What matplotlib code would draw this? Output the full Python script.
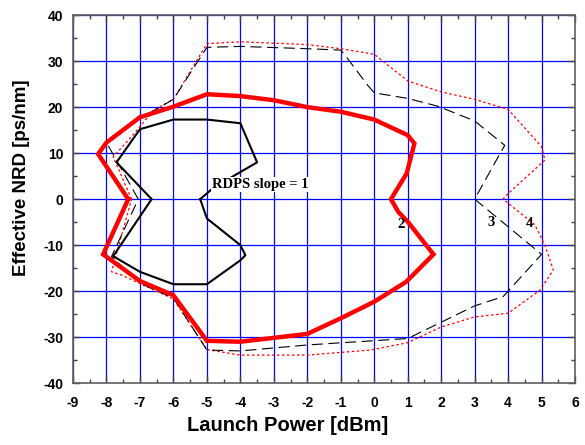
import matplotlib
matplotlib.use("Agg")
import matplotlib.pyplot as plt
import numpy as np

plt.rcParams["axes.unicode_minus"] = False

# curve 1: RDPS slope = 1 (black solid)
x1 = [-5.2, -5.0, -4.0, -3.85, -4.0, -5.0, -6.0, -7.0, -7.8, -6.65, -7.7, -7.0, -6.0, -5.0, -4.0, -3.5, -4.8, -5.2]
y1 = [0.0, -4.2, -10.0, -12.2, -13.3, -18.5, -18.5, -15.8, -12.4, 0.0, 8.0, 15.2, 17.3, 17.3, 16.5, 8.0, 2.5, 0.0]

# curve 2 (red thick)
x2 = [-7.35, -8.25, -8.0, -7.0, -6.0, -5.0, -4.0, -3.0, -2.0, -1.0, 0.0, 1.0, 1.2, 0.97, 0.5, 0.72, 1.0, 1.77,
      0.95, 0.0, -1.0, -2.0, -4.0, -5.0, -6.0, -7.0, -8.1, -7.35]
y2 = [0.0, 9.8, 12.3, 17.8, 20.1, 22.8, 22.4, 21.5, 20.0, 19.0, 17.3, 13.9, 12.1, 5.6, 0.0, -2.8, -4.9, -12.0,
      -18.0, -22.3, -25.9, -29.3, -31.0, -30.8, -20.9, -17.8, -12.0, 0.0]

# curve 3 (black dashed)
x3 = [-7.05, -8.0, -7.0, -6.0, -5.0, -4.0, -2.0, -1.0, -0.8, -0.2, 0.0, 1.0, 1.9, 3.0, 3.9, 3.75, 3.0, 5.0,
      3.85, 3.0, 1.0, -2.0, -4.0, -5.0, -6.0, -7.0, -7.85, -7.05]
y3 = [0.0, 12.3, 17.5, 21.7, 33.0, 33.2, 32.7, 32.4, 30.6, 24.8, 23.1, 21.9, 20.2, 17.0, 11.7, 9.8, 0.0, -12.0,
      -21.2, -23.2, -30.3, -31.7, -33.0, -32.8, -21.5, -18.3, -12.5, 0.0]

# curve 4 (red dotted)
x4 = [-7.25, -7.8, -7.2, -6.6, -6.0, -5.0, -4.0, -2.0, -1.0, 0.0, 1.0, 2.0, 3.0, 4.0, 5.0, 5.1, 4.0, 3.85,
      4.8, 5.1, 5.35, 4.95, 4.0, 3.0, 2.0, 1.0, -0.1, -2.0, -3.0, -4.0, -5.0, -6.0, -7.55, -7.85, -7.25]
y4 = [0.0, 9.2, 14.0, 19.3, 21.7, 33.8, 34.2, 33.6, 32.7, 31.5, 25.7, 23.3, 21.7, 19.5, 11.4, 8.5, 1.2, 0.0,
      -5.6, -10.0, -15.4, -19.8, -24.8, -25.6, -27.8, -31.2, -32.8, -33.9, -33.9, -33.9, -32.7, -21.7, -16.5, -15.8, 0.0]

curve_labels = ["2", "3", "4"]
label_x = [0.8, 3.5, 4.65]
label_y = [-5.6, -5.0, -5.4]

xticks = np.arange(-9, 7, 1)
yticks = np.arange(-40, 41, 10)

fig = plt.figure(figsize=(5.85, 4.45), dpi=100)
ax = fig.add_axes([0.1248, 0.139, 0.8582, 0.827])

for v in xticks:
    ax.axvline(v, color="#0000ff", lw=0.9, zorder=1)
for v in yticks:
    ax.axhline(v, color="#0000ff", lw=0.9, zorder=1)

ax.plot(x4, y4, color="red", lw=0.9, dashes=(2, 2), zorder=3)
ax.plot(x3, y3, color="black", lw=0.8, dashes=(10, 5), zorder=3)
ax.plot(x2, y2, color="red", lw=3.2, solid_joinstyle="miter", zorder=4)
ax.plot(x1, y1, color="black", lw=1.5, zorder=5)

serif = ["Liberation Serif", "DejaVu Serif"]
ax.text(-4.85, 3.2, "RDPS slope = 1", family=serif, fontweight="bold", fontsize=10.5,
        ha="left", va="center", zorder=6,
        bbox=dict(facecolor="white", edgecolor="none", pad=0.5))
for t, lx, ly in zip(curve_labels, label_x, label_y):
    ax.text(lx, ly, t, family=serif, fontweight="bold", fontsize=10.5, ha="center", va="center",
            zorder=6)

ax.set_xlim(-9, 6)
ax.set_ylim(-40, 40)
ax.set_xticks(xticks)
ax.set_yticks(yticks)
ax.set_xticks(np.arange(-9, 6.01, 0.5), minor=True)
ax.set_yticks(np.arange(-40, 40.1, 5), minor=True)
ax.tick_params(which="both", direction="in", top=True, right=True, colors="#404040",
               labelcolor="black")
ax.tick_params(which="major", length=5, width=1)
ax.tick_params(which="minor", length=3, width=1)
ax.tick_params(axis="x", which="major", pad=9)
ax.tick_params(axis="y", which="major", pad=7)

sans = ["Liberation Sans", "DejaVu Sans"]
for lab in ax.get_xticklabels() + ax.get_yticklabels():
    lab.set_family(sans)
    lab.set_fontweight("bold")
    lab.set_fontsize(10)

ax.set_xlabel("Launch Power [dBm]", family=sans, fontweight="bold", fontsize=14.5)
ax.set_ylabel("Effective NRD [ps/nm]", family=sans, fontweight="bold", fontsize=13.5)
ax.xaxis.set_label_coords(0.428, -0.088)
ax.yaxis.set_label_coords(-0.085, 0.557)

for s in ax.spines.values():
    s.set_color("#606060")
    s.set_linewidth(1.2)

fig.savefig("out.png", dpi=100)
